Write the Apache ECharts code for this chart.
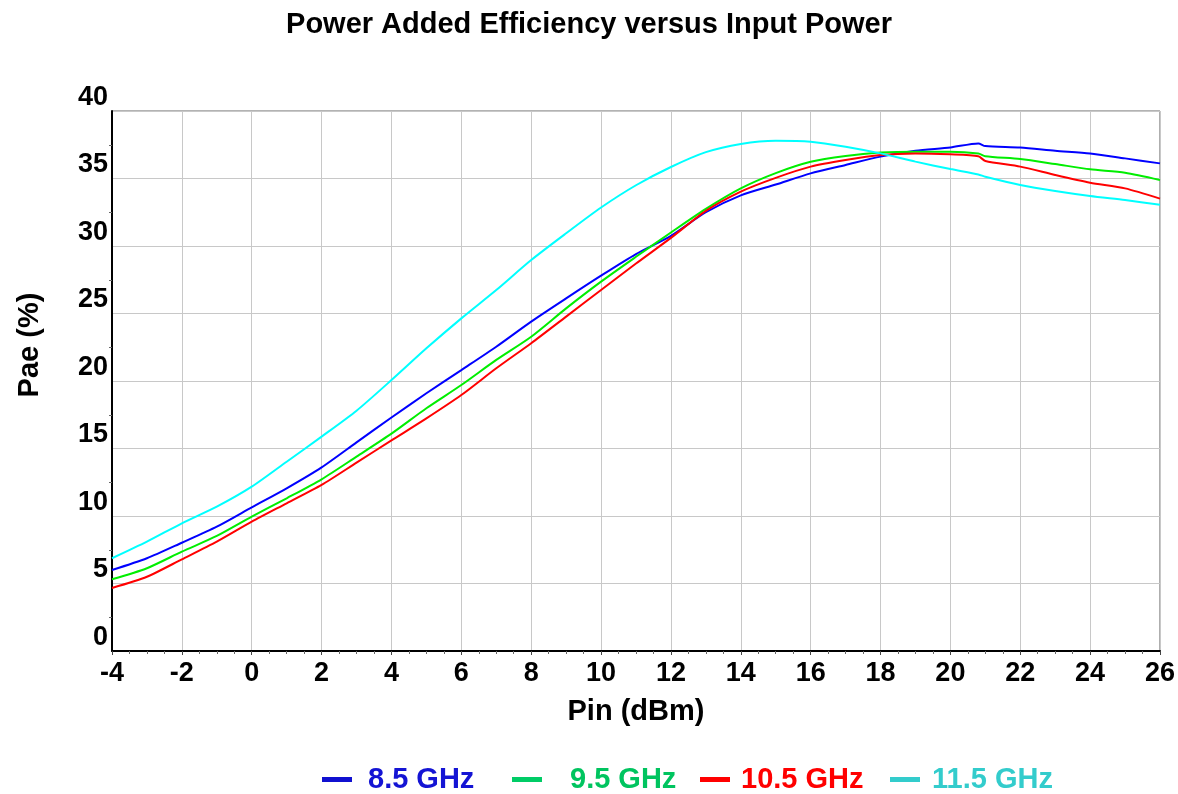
<!DOCTYPE html>
<html>
<head>
<meta charset="utf-8">
<title>Power Added Efficiency versus Input Power</title>
<script src="https://cdn.jsdelivr.net/npm/echarts@6/dist/echarts.min.js"></script>
<style>
  html, body { margin: 0; padding: 0; background: #ffffff; }
  #chart { width: 1178px; height: 794px; }
</style>
</head>
<body>
<div id="chart"></div>
<script>
// Input power sweep (dBm)
const pin = [-4, -3, -2, -1, 0, 1, 2, 3, 4, 5, 6, 7, 8, 9, 10, 11, 12, 13, 14, 15, 16, 17, 18, 19, 20, 20.8, 21, 22, 23, 24, 25, 26];

// Power added efficiency (%) per frequency
const pae85 = [6.0, 6.87, 8.02, 9.21, 10.64, 12.05, 13.6, 15.45, 17.3, 19.09, 20.81, 22.54, 24.4, 26.12, 27.8, 29.4, 30.75, 32.5, 33.75, 34.55, 35.38, 36.0, 36.62, 37.05, 37.3, 37.6, 37.4, 37.3, 37.06, 36.86, 36.49, 36.12];
const pae95 = [5.31, 6.13, 7.36, 8.52, 9.95, 11.31, 12.72, 14.4, 16.1, 17.98, 19.7, 21.56, 23.28, 25.38, 27.36, 29.2, 31.0, 32.75, 34.27, 35.4, 36.24, 36.67, 36.92, 36.99, 36.99, 36.85, 36.65, 36.44, 36.07, 35.68, 35.43, 34.89];
const pae105 = [4.67, 5.5, 6.79, 8.1, 9.58, 10.94, 12.3, 13.95, 15.6, 17.23, 18.96, 20.94, 22.8, 24.77, 26.74, 28.7, 30.6, 32.6, 34.03, 35.05, 35.88, 36.37, 36.74, 36.86, 36.79, 36.65, 36.3, 35.88, 35.26, 34.69, 34.27, 33.51];
const pae115 = [6.87, 8.1, 9.46, 10.69, 12.17, 14.02, 15.88, 17.8, 20.07, 22.42, 24.64, 26.74, 28.96, 30.94, 32.85, 34.5, 35.85, 36.95, 37.56, 37.8, 37.73, 37.36, 36.86, 36.25, 35.7, 35.3, 35.13, 34.52, 34.07, 33.7, 33.4, 33.06];

const seriesNames = ['8.5 GHz', '9.5 GHz', '10.5 GHz', '11.5 GHz'];
const seriesValues = [pae85, pae95, pae105, pae115];

const FONT = "'Liberation Sans', Arial, sans-serif";
const lineColors = ['#0000ff', '#00ee00', '#ff0000', '#00ffff'];
const legendIconColors = ['#1010d0', '#00cc66', '#ff0000', '#33cccc'];
const legendTextColors = ['#1414d4', '#00c45f', '#ff0000', '#33cccc'];
const legendLeft = [322, 512, 700, 890];
const legendTextPad = [11, 23, 6, 7];

const toPairs = vals => pin.map((p, i) => [p, vals[i]]);

const chart = echarts.init(document.getElementById('chart'), null, { renderer: 'canvas' });

const option = {
  backgroundColor: '#ffffff',
  animation: false,
  title: {
    text: 'Power Added Efficiency versus Input Power',
    left: 'center',
    top: 5,
    textStyle: { fontFamily: FONT, fontWeight: 'bold', fontSize: 29, color: '#000000' }
  },
  legend: seriesNames.map((name, i) => ({
    left: legendLeft[i],
    top: 765,
    padding: 0,
    selectedMode: false,
    itemWidth: 30,
    itemHeight: 5,
    data: [{
      name: name,
      icon: 'rect',
      itemStyle: { color: legendIconColors[i] },
      textStyle: {
        color: legendTextColors[i],
        fontFamily: FONT,
        fontWeight: 'bold',
        fontSize: 29,
        padding: [0, 0, 0, legendTextPad[i]]
      }
    }]
  })),
  grid: {
    left: 112,
    right: 16,
    top: 111,
    bottom: 143,
    show: true,
    borderColor: '#666666',
    borderWidth: 1,
    backgroundColor: 'transparent'
  },
  xAxis: {
    type: 'value',
    min: -4,
    max: 26,
    interval: 2,
    name: 'Pin (dBm)',
    nameLocation: 'middle',
    nameGap: 46,
    nameTextStyle: { fontFamily: FONT, fontWeight: 'bold', fontSize: 29, color: '#000000' },
    axisLine: { show: true, onZero: false, lineStyle: { color: '#000000', width: 2 } },
    axisTick: { show: true, length: 4, lineStyle: { color: '#444444' } },
    minorTick: { show: true, splitNumber: 4, length: 3, lineStyle: { color: '#666666' } },
    axisLabel: { fontFamily: FONT, fontWeight: 'bold', fontSize: 27, color: '#000000', margin: 9 },
    splitLine: { show: true, lineStyle: { color: '#c8c8c8', width: 1 } }
  },
  yAxis: {
    type: 'value',
    min: 0,
    max: 40,
    interval: 5,
    name: 'Pae (%)',
    nameLocation: 'middle',
    nameGap: 68,
    nameRotate: 90,
    nameTextStyle: { fontFamily: FONT, fontWeight: 'bold', fontSize: 29, color: '#000000', padding: [0, 0, 0, 72] },
    axisLine: { show: true, onZero: false, lineStyle: { color: '#000000', width: 2 } },
    axisTick: { show: false },
    minorTick: { show: true, splitNumber: 2, length: 3, lineStyle: { color: '#666666' } },
    axisLabel: { fontFamily: FONT, fontWeight: 'bold', fontSize: 27, color: '#000000', margin: 4, verticalAlign: 'bottom' },
    splitLine: { show: true, lineStyle: { color: '#c8c8c8', width: 1 } }
  },
  series: seriesNames.map((name, i) => ({
    name: name,
    type: 'line',
    data: toPairs(seriesValues[i]),
    showSymbol: false,
    smooth: 0.25,
    lineStyle: { color: lineColors[i], width: 2 },
    itemStyle: { color: lineColors[i] },
    z: 3 + i
  }))
};

chart.setOption(option);
</script>
</body>
</html>
